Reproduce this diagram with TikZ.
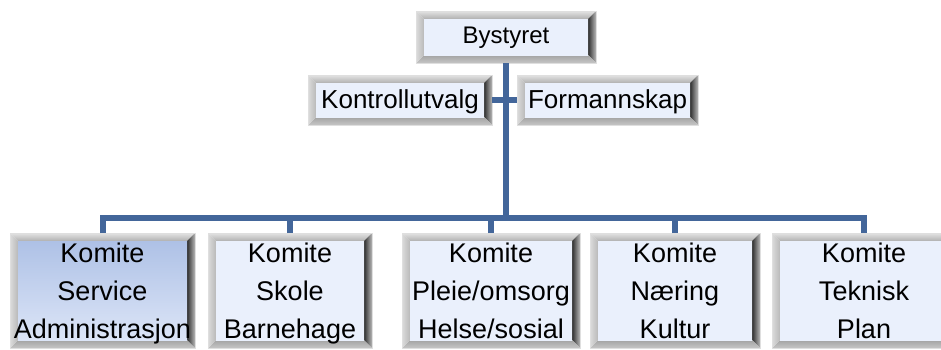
\documentclass[tikz,border=0pt]{standalone}
\usepackage{fontspec}
\setmainfont{Liberation Sans}
\definecolor{connc}{HTML}{43669A}
\definecolor{faceA}{HTML}{EAF0FC}
\definecolor{faceB}{HTML}{C3D3F0}
\definecolor{selA}{HTML}{AEC1E6}
\definecolor{selB}{HTML}{DCE5F7}
\newcommand\bevw{8pt}
\newcommand\bevbox[6]{%
  \node[boxshape, minimum width={(#4-#2)*1pt}, minimum height={(#5-#3)*1pt}] (#1) at ({(#2+#4)/2},{(#3+#5)/2}) {};
  \path[bevtop] (#1.north west) -- (#1.north east) -- ([shift={(-\bevw,-\bevw)}]#1.north east) -- ([shift={(\bevw,-\bevw)}]#1.north west) -- cycle;
  \path[bevright] (#1.north east) -- (#1.south east) -- ([shift={(-\bevw,\bevw)}]#1.south east) -- ([shift={(-\bevw,-\bevw)}]#1.north east) -- cycle;
  \path[bevbottom] (#1.south east) -- (#1.south west) -- ([shift={(\bevw,\bevw)}]#1.south west) -- ([shift={(-\bevw,\bevw)}]#1.south east) -- cycle;
  \path[bevleft] (#1.south west) -- (#1.north west) -- ([shift={(\bevw,-\bevw)}]#1.north west) -- ([shift={(\bevw,\bevw)}]#1.south west) -- cycle;
  \path[#6] ([shift={(\bevw,-\bevw)}]#1.north west) rectangle ([shift={(-\bevw,\bevw)}]#1.south east);
  \draw[gray!25, line width=1pt] (#1.north west) rectangle (#1.south east);
}
\tikzset{
  boxshape/.style={rectangle, inner sep=0pt, outer sep=0pt},
  bevtop/.style={top color=gray!22, bottom color=gray!62},
  bevleft/.style={left color=gray!28, right color=gray!55},
  bevright/.style={left color=black!82, right color=gray!55},
  bevbottom/.style={top color=gray!72, bottom color=gray!45},
  face/.style={left color=faceA, middle color=faceB, right color=faceA},
  selface/.style={top color=selA, bottom color=selB},
  conn/.style={draw=connc, line width=6pt},
  bigtxt/.style={anchor=base, inner sep=0pt, font=\fontsize{27pt}{32pt}\selectfont},
  toptxt/.style={anchor=base, inner sep=0pt, font=\fontsize{26pt}{30pt}\selectfont},
}
\begin{document}
\begin{tikzpicture}[x=1pt,y=-1pt]
\useasboundingbox (0,0) rectangle (941,349);
\clip (0,0) rectangle (941,349);
\fill[white] (0,0) rectangle (941,349);

% boxes
\bevbox{by}{416}{11}{596}{63}{face}
\bevbox{ko}{308}{75}{492}{125}{face}
\bevbox{fo}{517}{75}{698}{125}{face}
\bevbox{b1}{10}{233}{195}{348}{selface}
\bevbox{b2}{208}{233}{372}{348}{face}
\bevbox{b3}{402}{233}{580}{348}{face}
\bevbox{b4}{590}{233}{760}{348}{face}
\bevbox{b5}{772}{233}{956}{348}{face}

% connectors
\draw[conn] (ko.east) -- (fo.west);
\draw[conn] (by.south) -- ++(0,155) coordinate (hub);
\draw[conn, line join=miter] (b1.north) |- (hub) -| (b5.north);
\draw[conn] (b2.north) -- (b2.north |- hub);
\draw[conn] (b3.north) -- (b3.north |- hub);
\draw[conn] (b4.north) -- (b4.north |- hub);

% texts
\node[toptxt, font=\fontsize{24pt}{28pt}\selectfont] (tby) at (506,43) {Bystyret};
\node[toptxt] (tko) at (400,108) {Kontrollutvalg};
\node[toptxt] (tfo) at (607.5,108) {Formannskap};

\node[bigtxt] (t1a) at (b1.center |- 0,262) {Komite};
\node[bigtxt] (t1b) at (b1.center |- 0,300) {Service};
\node[bigtxt] (t1c) at (b1.center |- 0,338) {Administrasjon};
\node[bigtxt] (t2a) at (b2.center |- 0,262) {Komite};
\node[bigtxt] (t2b) at (b2.center |- 0,300) {Skole};
\node[bigtxt] (t2c) at (b2.center |- 0,338) {Barnehage};
\node[bigtxt] (t3a) at (b3.center |- 0,262) {Komite};
\node[bigtxt] (t3b) at (b3.center |- 0,300) {Pleie/omsorg};
\node[bigtxt] (t3c) at (b3.center |- 0,338) {Helse/sosial};
\node[bigtxt] (t4a) at (b4.center |- 0,262) {Komite};
\node[bigtxt] (t4b) at (b4.center |- 0,300) {Næring};
\node[bigtxt] (t4c) at (b4.center |- 0,338) {Kultur};
\node[bigtxt] (t5a) at (b5.center |- 0,262) {Komite};
\node[bigtxt] (t5b) at (b5.center |- 0,300) {Teknisk};
\node[bigtxt] (t5c) at (b5.center |- 0,338) {Plan};
\end{tikzpicture}
\end{document}
